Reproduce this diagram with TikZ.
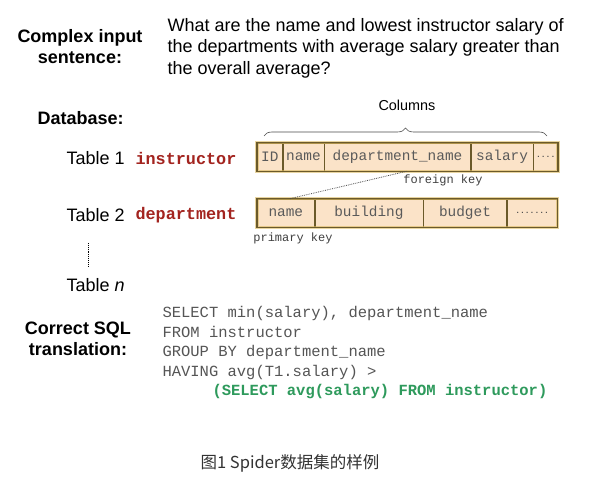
\documentclass[tikz,border=0pt]{standalone}
\usepackage{fontspec}
\setmainfont{Liberation Sans}
\setmonofont{Liberation Mono}
\newfontfamily\cjk{Noto Sans CJK SC}
\usetikzlibrary{decorations.pathreplacing,positioning}

\definecolor{cellfill}{HTML}{FBE3C8}
\definecolor{celledge}{HTML}{6B5A2A}
\definecolor{cellglow}{HTML}{D9B860}
\definecolor{celltext}{HTML}{5A5A5A}
\definecolor{tabred}{HTML}{A3241F}
\definecolor{sqlgray}{HTML}{555555}
\definecolor{sqlgreen}{HTML}{2E9A5C}

\tikzset{
  heading/.style={font=\fontsize{18}{21}\selectfont\bfseries, align=center},
  plain/.style={font=\fontsize{18}{20}\selectfont, anchor=west},
  tabname/.style={font=\fontsize{16.8}{19}\selectfont\ttfamily\bfseries, text=tabred, anchor=west},
  cell/.style={draw=celledge, line width=0.6pt, fill=cellfill, minimum height=28pt,
    inner sep=0pt, font=\fontsize{14.4}{16}\selectfont\ttfamily, text=celltext, anchor=west},
  dotcell/.style={cell, font=\fontsize{8}{10}\selectfont\ttfamily\bfseries, text=black!70},
  keylabel/.style={font=\fontsize{12}{14}\selectfont\ttfamily, text=black!75},
}

\begin{document}
\begin{tikzpicture}[x=1pt,y=-1pt]
  \useasboundingbox[fill=white] (0,0) rectangle (595,486);

  % question
  \node[heading] (qhead) at (80,47) {Complex input\\sentence:};
  \node[plain, font=\fontsize{18}{21.5}\selectfont, align=left] (question) at (164,48)
    {What are the name and lowest instructor salary of\\
     the departments with average salary greater than\\
     the overall average?};

  % database
  \node[heading, anchor=west] (dbhead) at (34,118) {Database:};
  \node[font=\fontsize{14.4}{16}\selectfont] (cols) at (407,105) {Columns};
  \draw[decorate, decoration={brace, amplitude=8pt}, line width=0.6pt, black!70]
    (264,136) -- (547,136);

  \node[plain] (tab1) at (63,158) {Table 1};
  \node[tabname] (inst) at (132,158) {instructor};
  \node[plain] (tab2) at (63,215) {Table 2};
  \node[tabname] (dept) at (132,215) {department};
  \draw[densely dotted, line width=0.9pt] (88,243) -- (88,267);
  \node[plain] (tabn) at (63,285) {Table \textit{n}};

  % table 1 row
  \node[cell, minimum width=25pt] (t1id) at (257,157) {ID};
  \node[cell, minimum width=41pt, right=0pt of t1id] (t1name) {name};
  \node[cell, minimum width=146pt, right=0pt of t1name] (t1dep) {department\_name};
  \node[cell, minimum width=62pt, right=0pt of t1dep] (t1sal) {salary};
  \node[dotcell, minimum width=24pt, right=0pt of t1sal] (t1dots) {....};
  \draw[cellglow, line width=3.2pt, opacity=0.6] (t1id.north west) rectangle (t1dots.south east);
  \draw[celledge, line width=1.5pt] (t1id.north west) rectangle (t1dots.south east);

  % table 2 row
  \node[cell, minimum width=57pt] (t2name) at (257,213) {name};
  \node[cell, minimum width=108pt, right=0pt of t2name] (t2bld) {building};
  \node[cell, minimum width=83pt, right=0pt of t2bld] (t2bud) {budget};
  \node[dotcell, minimum width=50pt, right=0pt of t2bud] (t2dots) {.......};
  \draw[cellglow, line width=3.2pt, opacity=0.6] (t2name.north west) rectangle (t2dots.south east);
  \draw[celledge, line width=1.5pt] (t2name.north west) rectangle (t2dots.south east);

  \node[keylabel] (fkey) at (443,180) {foreign key};
  \node[keylabel] (pkey) at (293,238) {primary key};
  \draw[densely dotted, line width=0.8pt, black!70] ([xshift=9pt]t1dep.south) -- ([xshift=4pt]t2name.north);

  % sql
  \node[heading] (sqlhead) at (78,339) {Correct SQL\\translation:};
  \node[anchor=west, align=left, text=sqlgray, font=\fontsize{15.5}{19.5}\selectfont\ttfamily] (sql) at (159,353)
    {SELECT min(salary), department\_name\\
     FROM instructor\\
     GROUP BY department\_name\\
     HAVING avg(T1.salary) >\\
     \hspace*{50pt}\textcolor{sqlgreen}{\bfseries (SELECT avg(salary) FROM instructor)}};

  % caption
  \node[font=\fontsize{16.5}{19}\selectfont\cjk, text=black!80] (caption) at (290,463) {图1 Spider数据集的样例};
\end{tikzpicture}
\end{document}
